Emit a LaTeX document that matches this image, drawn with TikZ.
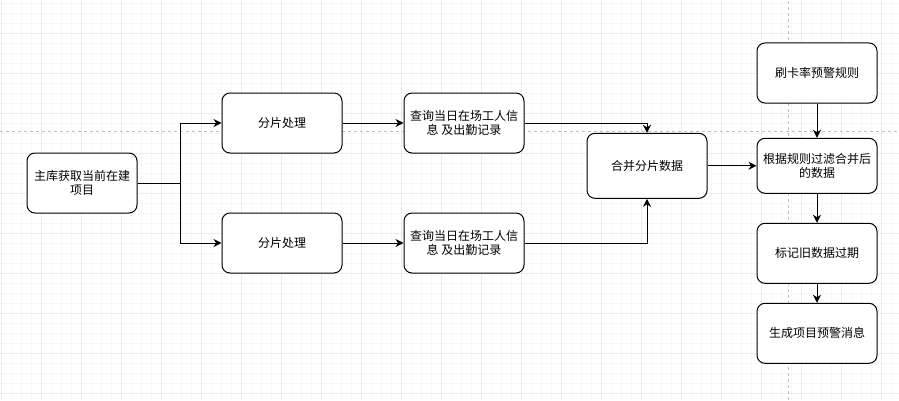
\documentclass[tikz,border=0pt]{standalone}
\usepackage{fontspec}
\usepackage{tikz}
\usetikzlibrary{arrows.meta}
\newfontfamily\cjk{Noto Sans CJK SC}

\begin{document}
\begin{tikzpicture}[x=1pt,y=1pt,node distance=182pt]
  \tikzstyle{procbox}=[rectangle,rounded corners=8pt,draw=black,fill=white,line width=1pt,
    minimum width=120pt,minimum height=60pt,inner sep=2pt,align=center,
    font=\cjk\fontsize{12}{14}\selectfont]
  \tikzstyle{flow}=[line width=1pt,-{Stealth[length=8pt,width=8pt,inset=2.5pt]}]
  \tikzstyle{gridminor}=[draw=black!3,line width=0.8pt]
  \tikzstyle{gridmajor}=[draw=black!8,line width=0.8pt]
  \tikzstyle{pagebreak}=[draw=black!25,line width=0.8pt,dash pattern=on 3pt off 3pt]

  \useasboundingbox (0,0) rectangle (899,400);
  \fill[white] (0,0) rectangle (899,400);

  % background grid
  \foreach \x in {1.3,11.3,...,899} \draw[gridminor] (\x,0) -- (\x,400);
  \foreach \y in {6.7,16.7,...,400} \draw[gridminor] (0,\y) -- (899,\y);
  \foreach \x in {1.3,41.3,...,899} \draw[gridmajor] (\x,0) -- (\x,400);
  \foreach \y in {6.7,46.7,...,400} \draw[gridmajor] (0,\y) -- (899,\y);
  \draw[pagebreak] (0,268.3) -- (899,268.3);
  \draw[pagebreak] (788.3,0) -- (788.3,400);

  \node[procbox, minimum width=110pt] (fetch) at (82,217) {主库获取当前在建\\项目};

  % shards
  \node[procbox, right of=fetch, node distance=200pt, yshift=60pt] (shard1) {分片处理};
  \node[procbox, below of=shard1, node distance=120pt] (shard2) {分片处理};
  \node[procbox, right of=shard1] (query1) {查询当日在场工人信\\息 及出勤记录};
  \node[procbox, right of=shard2] (query2) {查询当日在场工人信\\息 及出勤记录};

  \node[procbox, right of=query1, node distance=183pt, yshift=-42.8pt, minimum height=65pt] (merge) {合并分片数据};

  % right column
  \node[procbox, right of=merge, node distance=170pt, minimum height=55pt] (filter) {根据规则过滤合并后\\的数据};
  \node[procbox, above of=filter, node distance=92.8pt] (rule) {刷卡率预警规则};
  \node[procbox, below of=filter, node distance=87.5pt] (expire) {标记旧数据过期};
  \node[procbox, below of=expire, node distance=80pt] (warn) {生成项目预警消息};

  % edges
  \draw[flow] (fetch.east) -- ++(42.5,0) |- (shard1.west);
  \draw[flow] (fetch.east) -- ++(42.5,0) |- (shard2.west);
  \draw[flow] (shard1) -- (query1);
  \draw[flow] (shard2) -- (query2);
  \draw[flow] (query1.east) -| (merge.north);
  \draw[flow] (query2.east) -| (merge.south);
  \draw[flow] (merge) -- (filter);
  \draw[flow] (rule) -- (filter);
  \draw[flow] (filter) -- (expire);
  \draw[flow] (expire) -- (warn);

\end{tikzpicture}
\end{document}
